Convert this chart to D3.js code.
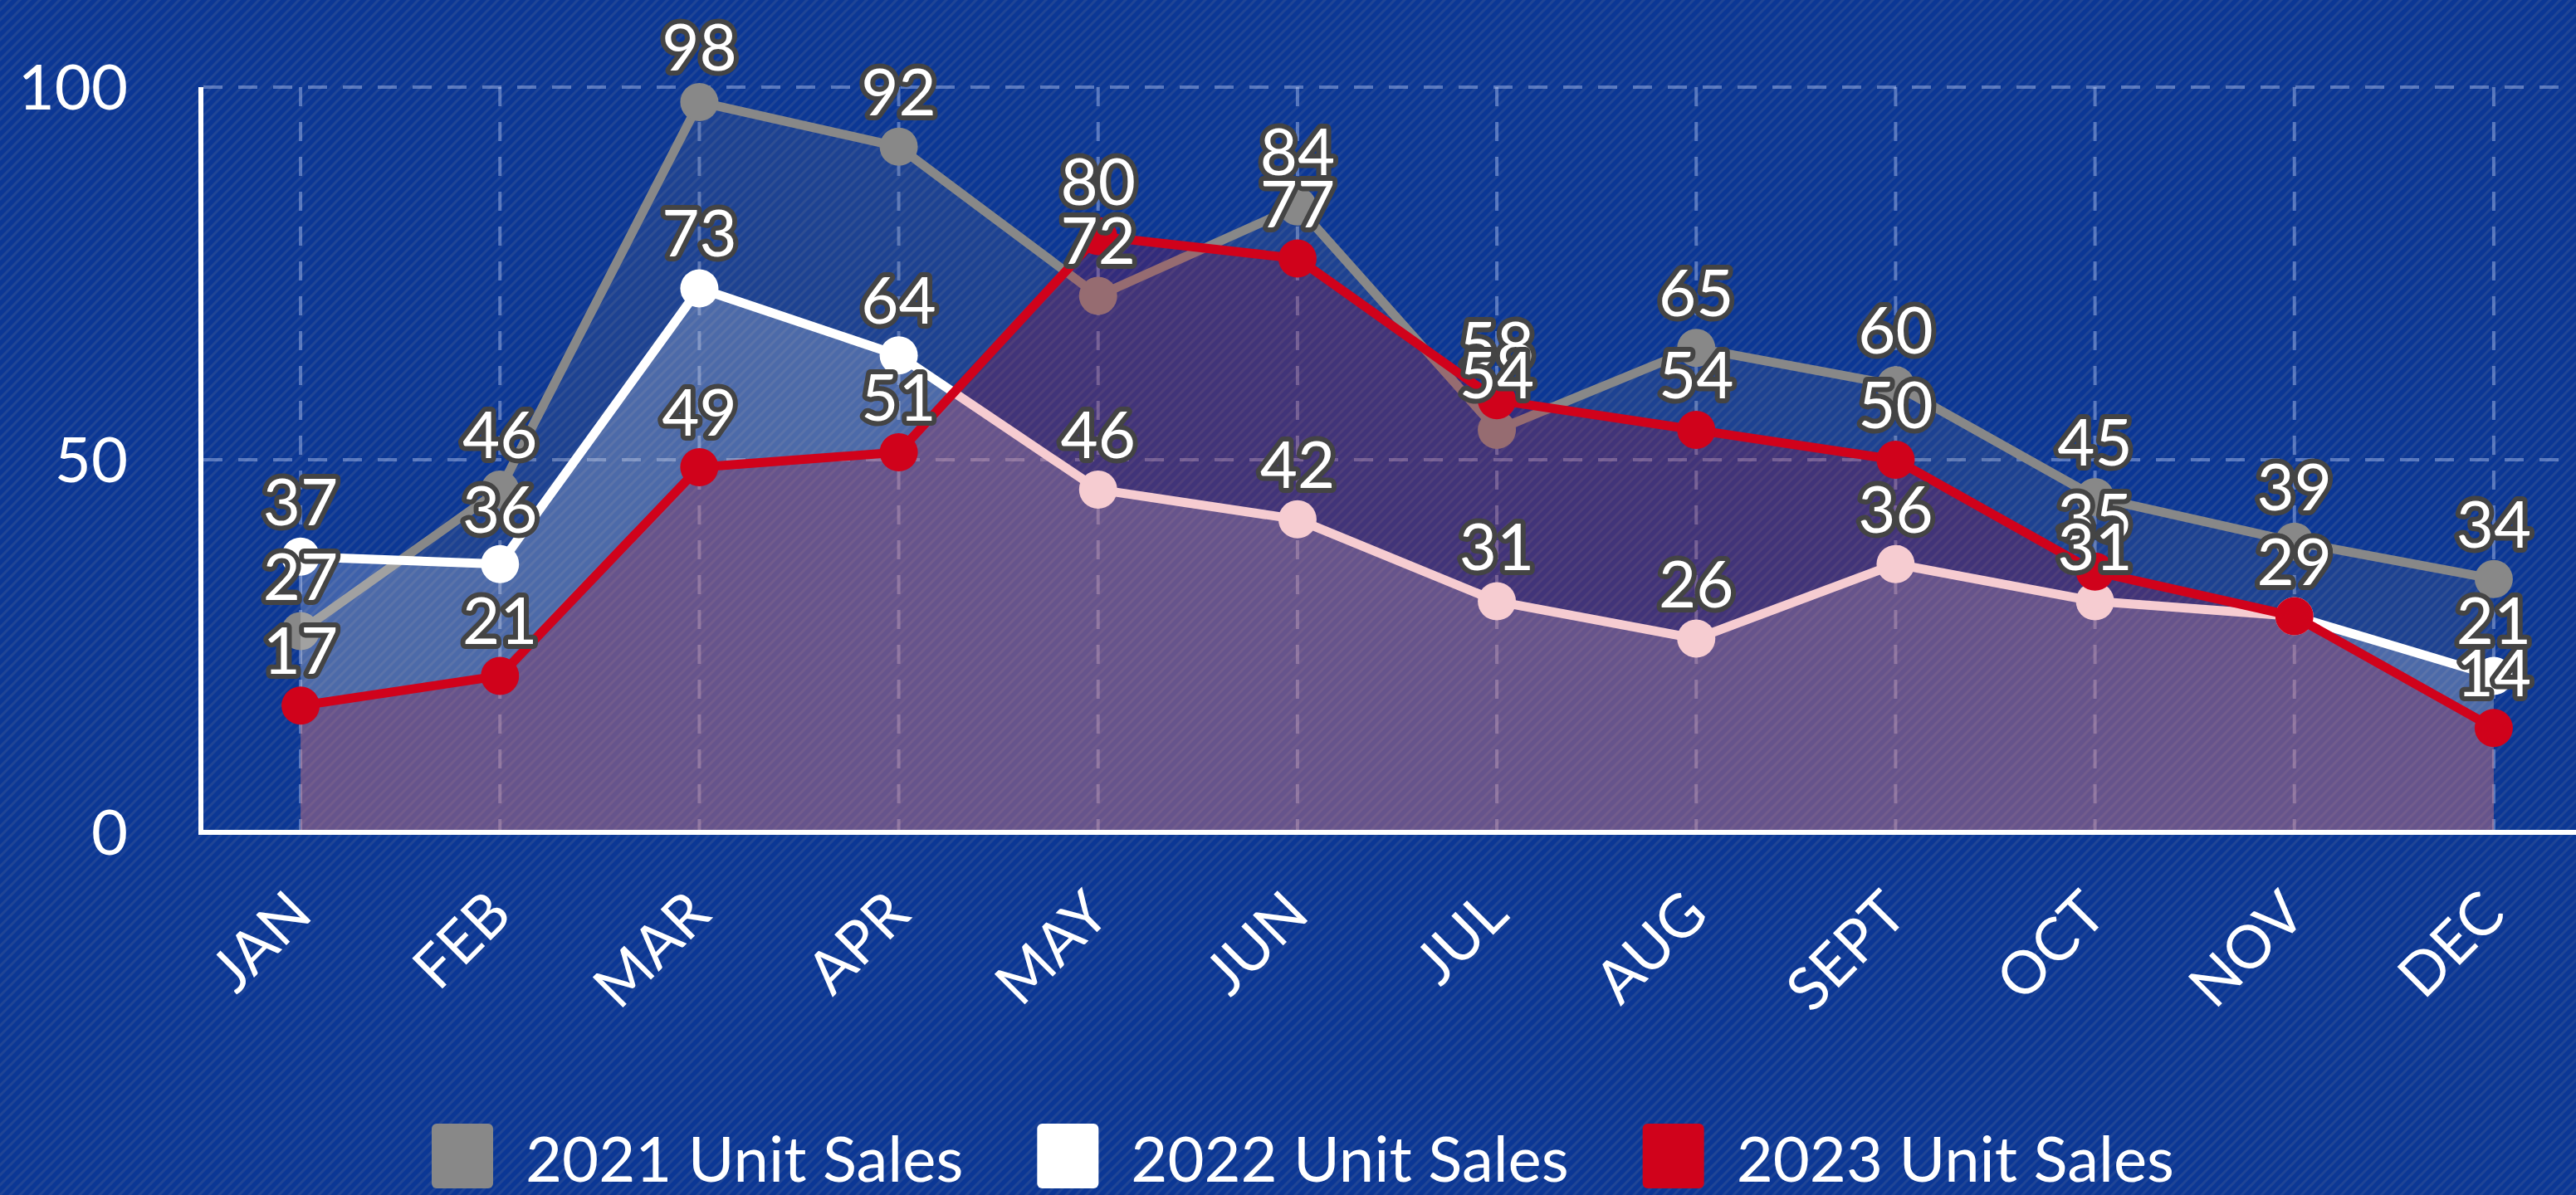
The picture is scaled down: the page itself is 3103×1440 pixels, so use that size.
<!DOCTYPE html>
<html>
<head>
<meta charset="utf-8">
<script src="https://cdn.jsdelivr.net/npm/d3@7"></script>
<style>
  html, body { margin: 0; padding: 0; background: #0b3795; }
  svg { display: block; font-family: Lato, "Open Sans", sans-serif; }
</style>
</head>
<body>
<div id="chart"></div>
<script>
// Data
var months = ["JAN", "FEB", "MAR", "APR", "MAY", "JUN", "JUL", "AUG", "SEPT", "OCT", "NOV", "DEC"];
var sales2021 = [27, 46, 98, 92, 72, 84, 54, 65, 60, 45, 39, 34];
var sales2022 = [37, 36, 73, 64, 46, 42, 31, 26, 36, 31, 29, 21];
var sales2023 = [17, 21, 49, 51, 80, 77, 58, 54, 50, 35, 29, 14];
var seriesNames = ["2021 Unit Sales", "2022 Unit Sales", "2023 Unit Sales"];
var yTicks = [0, 50, 100];

var W = 3103, H = 1440;
var colors = ["#888888", "#ffffff", "#d0021b"],
    areaOpacity = [0.15, 0.21, 0.2];

var svg = d3.select("#chart").append("svg")
    .attr("width", W)
    .attr("height", H);

// background with a woven diagonal texture
var defs = svg.append("defs");
var pat = defs.append("pattern")
    .attr("id", "weave")
    .attr("width", 12).attr("height", 12)
    .attr("patternUnits", "userSpaceOnUse");
pat.append("rect").attr("width", 12).attr("height", 12).attr("fill", "#0b3795");
pat.append("path")
    .attr("d", "M-3,3 L3,-3 M0,12 L12,0 M9,15 L15,9")
    .attr("stroke", "#3a5694")
    .attr("stroke-opacity", 0.45)
    .attr("stroke-width", 3);
svg.append("rect").attr("width", W).attr("height", H).attr("fill", "url(#weave)");

// scales
var x = d3.scalePoint()
    .domain(months)
    .range([242, 3124])
    .padding(0.5);

var y = d3.scaleLinear()
    .domain([0, 100])
    .range([1003, 105]);

// grid
var grid = svg.append("g")
    .attr("stroke", "#c8d6ff")
    .attr("stroke-opacity", 0.4)
    .attr("stroke-width", 4)
    .attr("stroke-dasharray", "23,19");

grid.selectAll(".hgrid")
    .data(yTicks.filter(function(d) { return d > 0; }))
    .enter().append("line")
    .attr("x1", 245).attr("x2", 3085)
    .attr("y1", function(d) { return y(d); })
    .attr("y2", function(d) { return y(d); });

grid.selectAll(".vgrid")
    .data(months)
    .enter().append("line")
    .attr("x1", function(d) { return x(d); })
    .attr("x2", function(d) { return x(d); })
    .attr("y1", y(100)).attr("y2", y(0));

// series
var allSeries = [sales2021, sales2022, sales2023];

var area = d3.area()
    .x(function(d, i) { return x(months[i]); })
    .y0(y(0))
    .y1(function(d) { return y(d); });

var line = d3.line()
    .x(function(d, i) { return x(months[i]); })
    .y(function(d) { return y(d); });

var labels = [];

allSeries.forEach(function(vals, s) {
    var g = svg.append("g");

    g.append("path")
        .datum(vals)
        .attr("d", area)
        .attr("fill", colors[s])
        .attr("fill-opacity", areaOpacity[s]);

    g.append("path")
        .datum(vals)
        .attr("d", line)
        .attr("fill", "none")
        .attr("stroke", colors[s])
        .attr("stroke-width", 11)
        .attr("stroke-linejoin", "round");

    g.selectAll("circle")
        .data(vals)
        .enter().append("circle")
        .attr("cx", function(d, i) { return x(months[i]); })
        .attr("cy", function(d) { return y(d); })
        .attr("r", 23)
        .attr("fill", colors[s]);

    vals.forEach(function(v, i) { labels.push({month: months[i], value: v}); });
});

// axes
svg.append("line")
    .attr("x1", 242).attr("x2", 242)
    .attr("y1", y(100)).attr("y2", y(0) + 3)
    .attr("stroke", "#fff").attr("stroke-width", 6);

svg.append("line")
    .attr("x1", 242).attr("x2", W)
    .attr("y1", y(0)).attr("y2", y(0))
    .attr("stroke", "#fff").attr("stroke-width", 6);

svg.selectAll(".ytick")
    .data(yTicks)
    .enter().append("text")
    .attr("x", 154)
    .attr("y", function(d) { return y(d); })
    .attr("dy", "0.36em")
    .attr("text-anchor", "end")
    .attr("fill", "#fff")
    .style("font-size", "76px")
    .text(function(d) { return d; });

svg.selectAll(".xtick")
    .data(months)
    .enter().append("text")
    .attr("transform", function(d) { return "translate(" + (x(d) + 17) + ",1105) rotate(-45)"; })
    .attr("text-anchor", "end")
    .attr("fill", "#fff")
    .style("font-size", "72px")
    .text(function(d) { return d; });

// data labels, higher values first so lower ones sit on top
labels.sort(function(a, b) { return b.value - a.value; });
svg.append("g").selectAll("text")
    .data(labels)
    .enter().append("text")
    .attr("x", function(d) { return x(d.month); })
    .attr("y", function(d) { return y(d.value) - 38; })
    .attr("text-anchor", "middle")
    .attr("fill", "#fff")
    .attr("stroke", "#444")
    .attr("stroke-width", 12)
    .attr("stroke-linejoin", "round")
    .attr("paint-order", "stroke")
    .style("font-size", "78px")
    .text(function(d) { return d.value; });

// legend
var legend = svg.append("g");
var lx = 520;
seriesNames.forEach(function(name, s) {
    legend.append("rect")
        .attr("x", lx).attr("y", 1354)
        .attr("width", 74).attr("height", 78)
        .attr("rx", 6)
        .attr("fill", colors[s]);
    var t = legend.append("text")
        .attr("x", lx + 113).attr("y", 1424)
        .attr("fill", "#fff")
        .style("font-size", "76px")
        .text(name);
    lx += 113 + t.node().getComputedTextLength() + 89;
});
</script>
</body>
</html>
